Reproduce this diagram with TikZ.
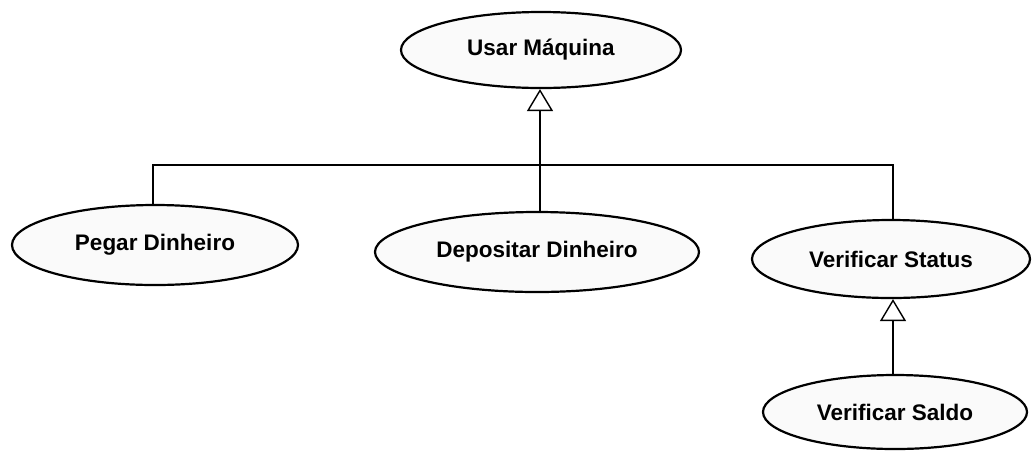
\documentclass[tikz,border=0pt]{standalone}
\usepackage{fontspec}
\setmainfont{Liberation Sans}
\usetikzlibrary{shapes.geometric,arrows.meta}
\tikzset{
  usecase/.style={ellipse, draw=black, line width=2.2pt, fill=gray!4, inner sep=0pt,
    font=\fontsize{22.5}{26}\selectfont\bfseries},
  link/.style={draw=black, line width=1.4pt},
  generalize/.style={link, -{Triangle[open, length=22pt, width=26pt, line width=1.4pt]}}
}
\begin{document}
\begin{tikzpicture}[x=1pt, y=-1pt]
  \useasboundingbox[fill=white] (0,0) rectangle (1032,451);
  \node[usecase, minimum width=280pt, minimum height=76pt] (usar) at (541,50) {Usar Máquina};
  \node[usecase, minimum width=286pt, minimum height=80pt] (pegar) at (155,245) {Pegar Dinheiro};
  \node[usecase, minimum width=324pt, minimum height=80pt] (depo) at (537,252) {Depositar Dinheiro};
  \node[usecase, minimum width=278pt, minimum height=78pt] (vstat) at (891,259) {Verificar Status};
  \node[usecase, minimum width=264pt, minimum height=74pt] (vsaldo) at (895,412) {Verificar Saldo};
  \coordinate (join) at (540,165);
  % generalization towards "Usar Máquina"
  \draw[generalize] (depo.north -| join) -- (usar.south -| join);
  \draw[link] (pegar.north -| 153,0) |- (join);
  \draw[link] (vstat.north -| 893,0) |- (join);
  % generalization towards "Verificar Status"
  \draw[generalize] (vsaldo.north -| 893,0) -- (vstat.south -| 893,0);
\end{tikzpicture}
\end{document}
